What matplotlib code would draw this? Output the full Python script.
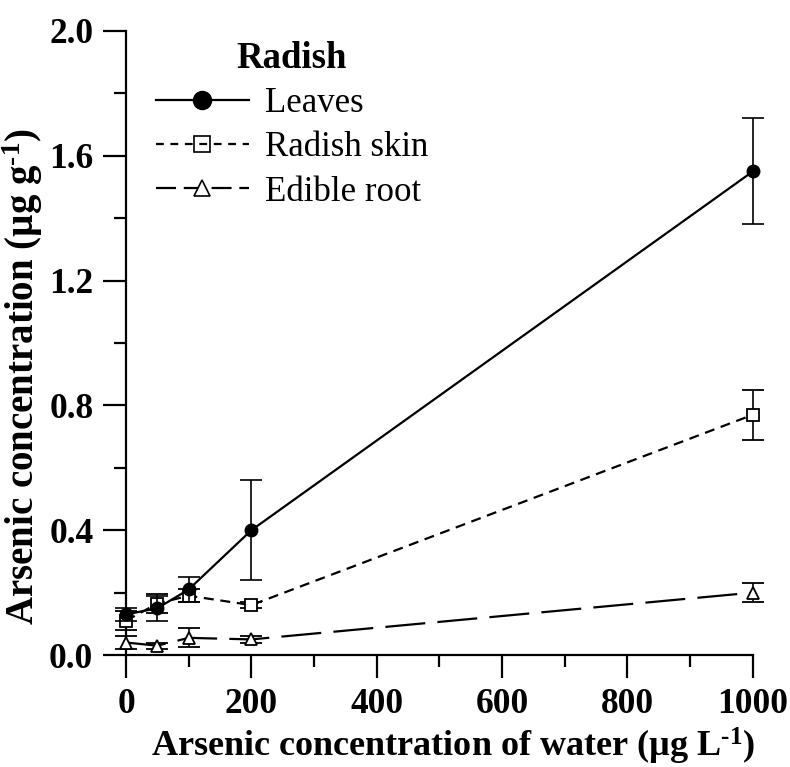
import numpy as np
import matplotlib
matplotlib.use("Agg")
import matplotlib.pyplot as plt
from matplotlib.lines import Line2D
from matplotlib.ticker import MultipleLocator

# данные
water_conc = [0, 50, 100, 200, 1000]

leaves = [0.13, 0.15, 0.21, 0.40, 1.55]
leaves_err = [0.02, 0.04, 0.04, 0.16, 0.17]

skin = [0.11, 0.165, 0.19, 0.16, 0.77]
skin_err = [0.03, 0.03, 0.02, 0.01, 0.08]

root = [0.04, 0.03, 0.055, 0.05, 0.20]
root_err = [0.02, 0.01, 0.03, 0.01, 0.03]

plt.rcParams['font.family'] = ['Liberation Serif', 'DejaVu Serif']
plt.rcParams['mathtext.fontset'] = 'custom'
plt.rcParams['mathtext.rm'] = 'Liberation Serif:bold'
plt.rcParams['mathtext.it'] = 'Liberation Serif:bold'
plt.rcParams['mathtext.bf'] = 'Liberation Serif:bold'

fig = plt.figure(figsize=(7.9, 7.67), dpi=100)
ax = fig.add_axes([0.1595, 0.146, 0.7935, 0.8136])

skin_dash = (0, (4.5, 3))
root_dash = (0, (18, 5.5))

common = dict(color='black', lw=1.6, ecolor='black', elinewidth=1.2,
              capsize=8, capthick=1.2, clip_on=False)

ax.errorbar(water_conc, root, yerr=root_err, ls=root_dash,
            marker='^', ms=8.5, mfc='white', mec='black', mew=1.3,
            zorder=3, **common)
ax.errorbar(water_conc, skin, yerr=skin_err, ls=skin_dash,
            marker='s', ms=8, mfc='white', mec='black', mew=1.3,
            zorder=4, **common)
ax.errorbar(water_conc, leaves, yerr=leaves_err, ls='-',
            marker='o', ms=9, mfc='black', mec='black',
            zorder=5, **common)

ax.set_xlim(0, 1000)
ax.set_ylim(0, 2.0)
ax.xaxis.set_major_locator(MultipleLocator(200))
ax.xaxis.set_minor_locator(MultipleLocator(100))
ax.yaxis.set_major_locator(MultipleLocator(0.4))
ax.yaxis.set_minor_locator(MultipleLocator(0.2))
ax.yaxis.set_major_formatter(plt.FormatStrFormatter('%.1f'))

for s in ['top', 'right']:
    ax.spines[s].set_visible(False)
for s in ['left', 'bottom']:
    ax.spines[s].set_linewidth(1.6)

ax.tick_params(which='major', direction='out', length=16.5, width=1.6, pad=7)
ax.tick_params(which='minor', direction='out', length=8.5, width=1.6)
for lab in ax.get_xticklabels() + ax.get_yticklabels():
    lab.set_fontsize(25.5)
    lab.set_fontweight('bold')

# дефис вместо длинного минуса в показателе степени
ax.set_xlabel('Arsenic concentration of water (µg L$^{\u20101}$)', fontsize=26,
              fontweight='bold')
ax.set_ylabel('Arsenic concentration (µg g$^{\u20101}$)', fontsize=28,
              fontweight='bold')
ax.xaxis.set_label_coords(0.5215, -0.114)
ax.yaxis.set_label_coords(-0.13, 0.447)

handles = [
    Line2D([], [], color='black', lw=1.6, ls='-', marker='o', ms=13,
           mfc='black', mec='black'),
    Line2D([], [], color='black', lw=1.6, ls=(0, (3.5, 3)), marker='s', ms=12,
           mfc='none', mec='black', mew=1.2),
    Line2D([], [], color='black', lw=1.6, ls=(0, (9, 3.5)), marker='^', ms=12,
           mfc='white', mec='black', mew=1.2),
]
leg = ax.legend(handles, ['Leaves', 'Radish skin', 'Edible root'], title='Radish',
                loc='upper left', bbox_to_anchor=(0.014, 1.017), frameon=False,
                fontsize=25, title_fontproperties={'weight': 'bold', 'size': 26.5},
                handlelength=2.7, handletextpad=0.45, labelspacing=0.32,
                borderaxespad=0.2)

fig.savefig('out.png', dpi=100)
